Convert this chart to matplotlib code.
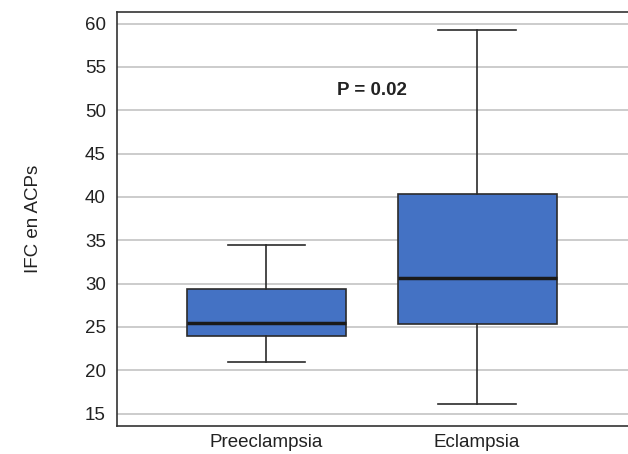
import matplotlib.pyplot as plt

plt.rcParams['font.family'] = ['Liberation Sans', 'DejaVu Sans']

# Box plot summary values
groups = ['Preeclampsia', 'Eclampsia']
whislo = [20.9, 16.1]
q1 = [24.0, 25.3]
med = [25.5, 30.6]
q3 = [29.4, 40.3]
whishi = [34.5, 59.3]
yticks = [15, 20, 25, 30, 35, 40, 45, 50, 55, 60]
p_text = 'P = 0.02'

stats = []
for i, g in enumerate(groups):
    stats.append({'label': g, 'whislo': whislo[i], 'q1': q1[i], 'med': med[i],
                  'q3': q3[i], 'whishi': whishi[i], 'fliers': []})

fig = plt.figure(figsize=(6.28, 4.54), dpi=100)
ax = fig.add_axes([117 / 628, 28 / 454, 511 / 628, 414 / 454])

ax.bxp(stats, positions=[0, 1], widths=0.755, patch_artist=True, showfliers=False,
       boxprops=dict(facecolor='#4472c4', edgecolor='#2b2b2b', linewidth=1.2),
       medianprops=dict(color='#1a1a1a', linewidth=2.5),
       whiskerprops=dict(color='#2b2b2b', linewidth=1.2),
       capprops=dict(color='#2b2b2b', linewidth=1.2),
       capwidths=0.37, zorder=3)

ax.set_xlim(-0.71, 1.717)
ax.set_ylim(13.56, 61.33)
ax.set_yticks(yticks)
ax.yaxis.grid(True, color='#c8c8c8', linewidth=1.3, zorder=0)
ax.set_axisbelow(True)
ax.tick_params(axis='both', length=0, labelsize=13.5, colors='#222222', pad=8)
ax.tick_params(axis='x', pad=6)

ax.spines['right'].set_visible(False)
for s in ['left', 'bottom', 'top']:
    ax.spines[s].set_color('#333333')
    ax.spines[s].set_linewidth(1.2)

ax.set_ylabel('IFC en ACPs', fontsize=13.5, color='#222222', labelpad=31)
ax.text(0.5, 52.3, p_text, ha='center', va='center', fontsize=13.5, fontweight='bold', color='#222222')

plt.savefig('out.png', dpi=100)
